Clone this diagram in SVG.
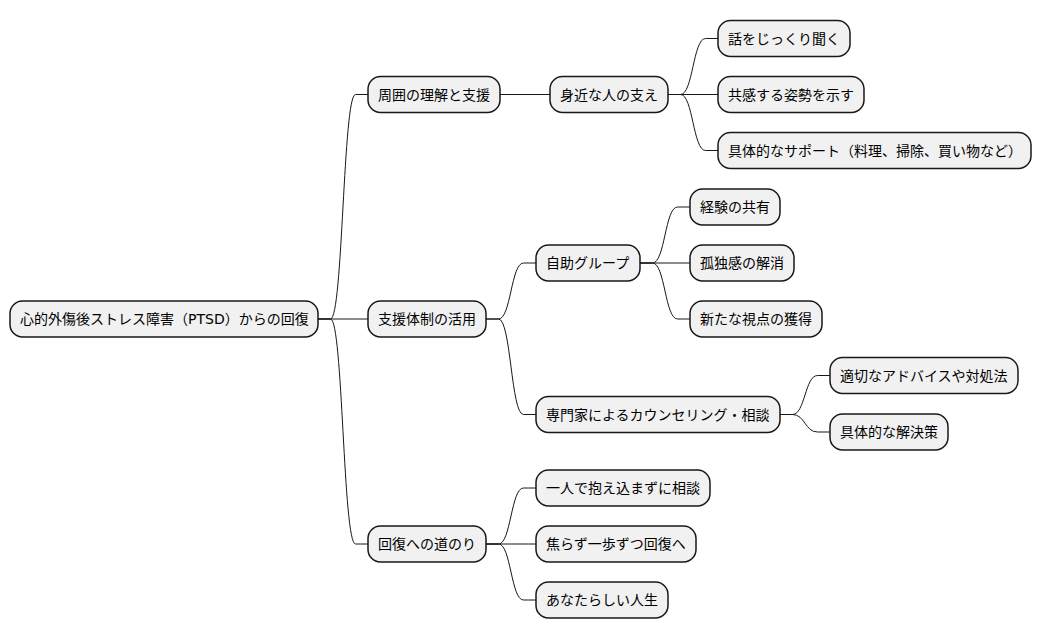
<svg xmlns="http://www.w3.org/2000/svg" width="1043" height="640" viewBox="0 0 1043 640">
<style>
.n rect{fill:#F1F1F1;stroke:#181818;stroke-width:1.5}
.n text{font-family:"DejaVu Sans","Noto Sans CJK JP",sans-serif;font-size:14px;fill:#000}
#edges path{fill:none;stroke:#181818;stroke-width:1}
</style>
<rect width="1043" height="640" fill="#FFFFFF"/>
<g id="edges">
<path d="M318,319 H330.5 C343,319 343,94.5 355.5,94.5 H368"/>
<path d="M318,319 H368"/>
<path d="M318,319 H330.5 C343,319 343,544 355.5,544 H368"/>
<path d="M500,94.5 H550"/>
<path d="M668,94.5 H680.5 C693,94.5 693,38.5 705.5,38.5 H718"/>
<path d="M668,94.5 H718"/>
<path d="M668,94.5 H680.5 C693,94.5 693,150.5 705.5,150.5 H718"/>
<path d="M486,319 H498.5 C511,319 511,263 523.5,263 H536"/>
<path d="M486,319 H498.5 C511,319 511,414.5 523.5,414.5 H536"/>
<path d="M640,263 H652.5 C665,263 665,207 677.5,207 H690"/>
<path d="M640,263 H690"/>
<path d="M640,263 H652.5 C665,263 665,319 677.5,319 H690"/>
<path d="M780,414.5 H792.5 C805,414.5 805,375.5 817.5,375.5 H830"/>
<path d="M780,414.5 H792.5 C805,414.5 805,432 817.5,432 H830"/>
<path d="M486,544 H498.5 C511,544 511,488 523.5,488 H536"/>
<path d="M486,544 H536"/>
<path d="M486,544 H498.5 C511,544 511,600 523.5,600 H536"/>
</g>
<g id="root" class="n"><rect x="10" y="301" width="308" height="36" rx="12.5"/><text x="20" y="324">心的外傷後ストレス障害（PTSD）からの回復</text></g>
<g id="n1" class="n"><rect x="368" y="76.5" width="132" height="36" rx="12.5"/><text x="378" y="99.5">周囲の理解と支援</text></g>
<g id="n1a" class="n"><rect x="550" y="76.5" width="118" height="36" rx="12.5"/><text x="560" y="99.5">身近な人の支え</text></g>
<g id="n1a1" class="n"><rect x="718" y="20.5" width="132" height="36" rx="12.5"/><text x="728" y="43.5">話をじっくり聞く</text></g>
<g id="n1a2" class="n"><rect x="718" y="76.5" width="146" height="36" rx="12.5"/><text x="728" y="99.5">共感する姿勢を示す</text></g>
<g id="n1a3" class="n"><rect x="718" y="132.5" width="313" height="36" rx="12.5"/><text x="728" y="155.5">具体的なサポート（料理、掃除、買い物など）</text></g>
<g id="n2" class="n"><rect x="368" y="301" width="118" height="36" rx="12.5"/><text x="378" y="324">支援体制の活用</text></g>
<g id="n2a" class="n"><rect x="536" y="245" width="104" height="36" rx="12.5"/><text x="546" y="268">自助グループ</text></g>
<g id="n2a1" class="n"><rect x="690" y="189" width="90" height="36" rx="12.5"/><text x="700" y="212">経験の共有</text></g>
<g id="n2a2" class="n"><rect x="690" y="245" width="104" height="36" rx="12.5"/><text x="700" y="268">孤独感の解消</text></g>
<g id="n2a3" class="n"><rect x="690" y="301" width="132" height="36" rx="12.5"/><text x="700" y="324">新たな視点の獲得</text></g>
<g id="n2b" class="n"><rect x="536" y="396.5" width="244" height="36" rx="12.5"/><text x="546" y="419.5">専門家によるカウンセリング・相談</text></g>
<g id="n2b1" class="n"><rect x="830" y="357.5" width="188" height="36" rx="12.5"/><text x="840" y="380.5">適切なアドバイスや対処法</text></g>
<g id="n2b2" class="n"><rect x="830" y="414" width="118" height="36" rx="12.5"/><text x="840" y="437">具体的な解決策</text></g>
<g id="n3" class="n"><rect x="368" y="526" width="118" height="36" rx="12.5"/><text x="378" y="549">回復への道のり</text></g>
<g id="n3a" class="n"><rect x="536" y="470" width="174" height="36" rx="12.5"/><text x="546" y="493">一人で抱え込まずに相談</text></g>
<g id="n3b" class="n"><rect x="536" y="526" width="160" height="36" rx="12.5"/><text x="546" y="549">焦らず一歩ずつ回復へ</text></g>
<g id="n3c" class="n"><rect x="536" y="582" width="132" height="36" rx="12.5"/><text x="546" y="605">あなたらしい人生</text></g>
</svg>
